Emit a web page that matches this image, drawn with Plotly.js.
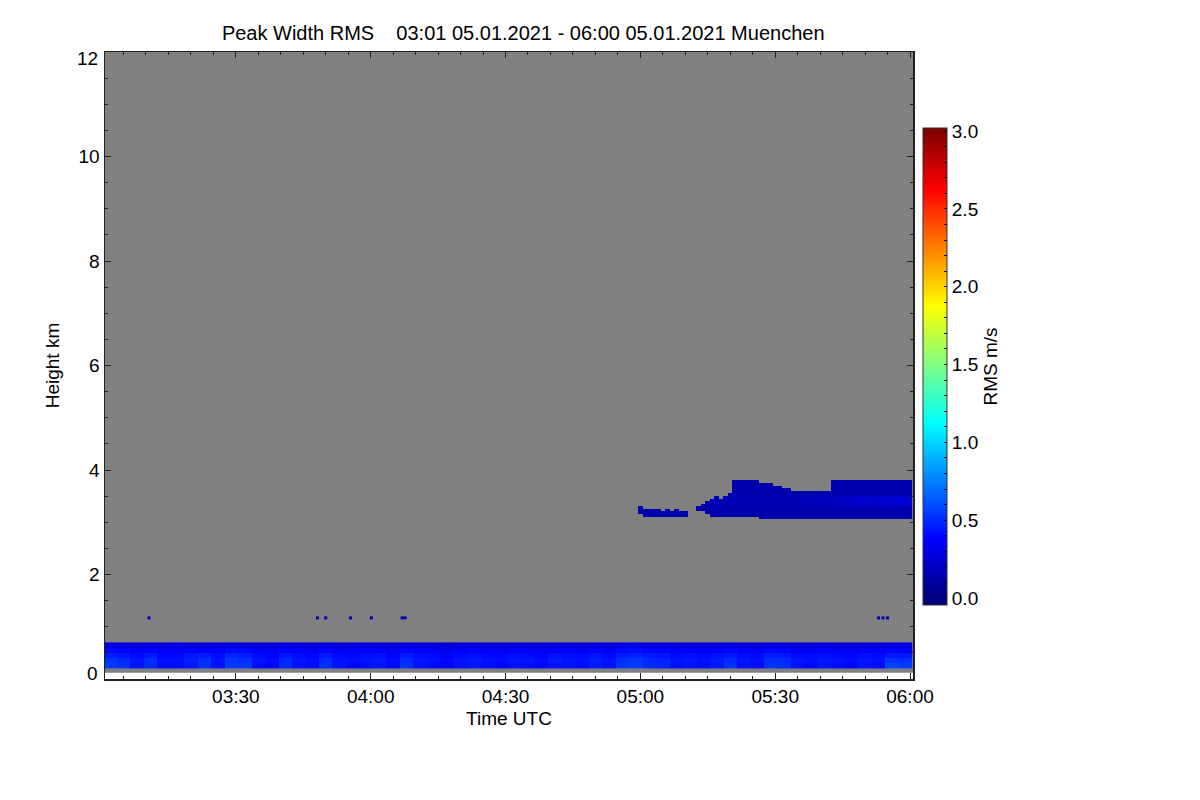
<!DOCTYPE html>
<html><head><meta charset="utf-8">
<script src="https://cdn.plot.ly/plotly-3.0.1.min.js"></script>
<style>html,body{margin:0;padding:0;background:#fff}#chart{width:1200px;height:800px}</style>
</head><body><div id="chart"></div>
<script>
// ---------- data ----------
// Boundary layer: 3-minute columns starting 03:02 UTC, rows at these heights (km)
const lowHeights = [0.25, 0.35, 0.45, 0.55, 0.65];
const lowRow025 = [0.55,0.52,0.42,0.50,0.41,0.40,0.44,0.52,0.42,0.55,0.54,0.41,0.39,0.50,0.42,0.40,0.51,0.43,0.39,0.41,
                   0.43,0.39,0.52,0.42,0.40,0.38,0.42,0.44,0.41,0.39,0.43,0.41,0.39,0.43,0.42,0.40,0.45,0.42,0.53,0.55,
                   0.50,0.49,0.41,0.43,0.40,0.44,0.52,0.42,0.41,0.53,0.51,0.42,0.40,0.43,0.41,0.39,0.43,0.41,0.58,0.55];
const lowRow035 = [0.53,0.50,0.44,0.51,0.42,0.42,0.46,0.52,0.43,0.53,0.51,0.43,0.40,0.49,0.43,0.41,0.50,0.42,0.41,0.43,
                   0.45,0.40,0.50,0.44,0.42,0.39,0.43,0.45,0.42,0.41,0.44,0.43,0.40,0.45,0.43,0.42,0.46,0.43,0.51,0.53,
                   0.49,0.48,0.43,0.44,0.42,0.45,0.50,0.44,0.42,0.51,0.49,0.44,0.42,0.45,0.43,0.41,0.44,0.42,0.53,0.51];
const lowRow045 = [0.46,0.44,0.40,0.45,0.39,0.40,0.43,0.46,0.41,0.48,0.46,0.40,0.38,0.44,0.41,0.39,0.45,0.40,0.39,0.41,
                   0.42,0.38,0.45,0.41,0.40,0.37,0.40,0.42,0.40,0.39,0.41,0.40,0.38,0.42,0.41,0.40,0.43,0.40,0.46,0.47,
                   0.45,0.44,0.40,0.42,0.40,0.42,0.45,0.41,0.40,0.46,0.45,0.41,0.40,0.42,0.40,0.39,0.42,0.40,0.45,0.44];
const lowRow055 = [0.40,0.38,0.34,0.37,0.33,0.35,0.38,0.36,0.34,0.40,0.39,0.35,0.32,0.37,0.35,0.33,0.38,0.34,0.33,0.36,
                   0.35,0.32,0.38,0.35,0.34,0.31,0.35,0.37,0.34,0.33,0.36,0.34,0.32,0.36,0.35,0.33,0.37,0.34,0.40,0.41,
                   0.38,0.37,0.34,0.36,0.33,0.36,0.39,0.35,0.34,0.39,0.38,0.35,0.33,0.36,0.34,0.33,0.35,0.34,0.38,0.37];
const lowRow065 = [0.30,0.28,0.26,0.29,0.27,0.31,0.28,0.27,0.29,0.30,0.28,0.26,0.27,0.29,0.28,0.26,0.30,0.27,0.28,0.29,
                   0.27,0.26,0.29,0.28,0.27,0.25,0.28,0.29,0.27,0.26,0.28,0.27,0.26,0.28,0.27,0.26,0.29,0.27,0.30,0.31,
                   0.29,0.28,0.27,0.28,0.26,0.28,0.30,0.27,0.26,0.29,0.28,0.27,0.26,0.28,0.27,0.26,0.28,0.27,0.29,0.28];

// Mid-level cloud: 1-minute columns from 05:00 to 06:00 UTC
const cloudBase = [3.15,3.12,3.10,3.08,3.08,3.08,3.08,3.08,3.08,3.10,3.12,null,null,3.22,3.18,3.13,3.12,3.12,3.12,3.12,
                   3.10,3.10,3.10,3.10,3.10,3.10,3.08,3.06,3.05,3.05,3.05,3.05,3.05,3.05,3.05,3.05,3.05,3.05,3.05,3.05,
                   3.05,3.05,3.05,3.05,3.05,3.05,3.05,3.05,3.05,3.05,3.05,3.05,3.05,3.05,3.05,3.05,3.05,3.05,3.05,3.05,3.05];
const cloudTop  = [3.28,3.25,3.22,3.22,3.22,3.20,3.22,3.20,3.22,3.20,3.18,null,null,3.30,3.35,3.40,3.45,3.50,3.45,3.50,
                   3.55,3.80,3.80,3.78,3.78,3.76,3.76,3.75,3.74,3.72,3.70,3.67,3.65,3.62,3.60,3.58,3.57,3.57,3.57,3.57,
                   3.57,3.57,3.57,3.76,3.78,3.80,3.79,3.80,3.78,3.80,3.79,3.80,3.80,3.78,3.80,3.79,3.80,3.80,3.79,3.80,3.80];
const cloudEdge = [0.14,0.13,0.14,0.15,0.13,0.14,0.15,0.13,0.14,0.15,0.14,null,null,0.14,0.15,0.13,0.14,0.15,0.14,0.13,
                   0.14,0.15,0.13,0.14,0.15,0.14,0.13,0.14,0.15,0.14,0.13,0.14,0.15,0.14,0.13,0.14,0.15,0.14,0.13,0.14,
                   0.15,0.14,0.13,0.14,0.15,0.14,0.13,0.14,0.15,0.14,0.13,0.14,0.15,0.14,0.13,0.14,0.15,0.14,0.13,0.14,0.15];
const cloudCore = [0.14,0.13,0.14,0.15,0.13,0.14,0.15,0.13,0.14,0.15,0.14,null,null,0.14,0.15,0.14,0.15,0.16,0.15,0.14,
                   0.15,0.16,0.15,0.16,0.16,0.16,0.15,0.16,0.16,0.16,0.15,0.16,0.16,0.16,0.15,0.16,0.16,0.17,0.17,0.17,
                   0.18,0.18,0.19,0.19,0.20,0.21,0.22,0.21,0.22,0.23,0.22,0.24,0.23,0.22,0.24,0.25,0.23,0.24,0.25,0.24,0.26];
const coreLo = 3.3, coreHi = 3.5;
const cloudRowHeights = [3.025,3.075,3.125,3.175,3.225,3.275,3.325,3.375,3.425,3.475,3.525,3.575,3.625,3.675,3.725,3.775,3.825];

// Isolated echoes near 1.2 km
const dotTimes = ['2021-01-05 03:10:40','2021-01-05 03:48:10','2021-01-05 03:50:00','2021-01-05 03:55:30',
                  '2021-01-05 04:00:10','2021-01-05 04:07:00','2021-01-05 04:07:40',
                  '2021-01-05 05:53:00','2021-01-05 05:54:00','2021-01-05 05:55:00'];
const dotHeights = [1.17,1.17,1.17,1.17,1.17,1.17,1.17,1.17,1.17,1.17];
const dotValues  = [0.15,0.16,0.15,0.14,0.15,0.16,0.15,0.14,0.15,0.16];

const yTickVals = [0,2,4,6,8,10,12];
const yTickText = ['','2','4','6','8','10',''];
const cbTickVals = [0,0.1,0.2,0.3,0.4,0.5,0.6,0.7,0.8,0.9,1.0,1.1,1.2,1.3,1.4,1.5,1.6,1.7,1.8,1.9,2.0,2.1,2.2,2.3,2.4,2.5,2.6,2.7,2.8,2.9,3.0];
const cbTickText = ['0.0','','','','','0.5','','','','','1.0','','','','','1.5','','','','','2.0','','','','','2.5','','','','','3.0'];

// ---------- build ----------
function pad(n){return (n<10?'0':'')+n;}
function timeStr(totalMin){const h=Math.floor(totalMin/60), m=totalMin%60; return '2021-01-05 '+pad(h)+':'+pad(m)+':00';}
const lowX = lowRow025.map((_,k)=>timeStr(182+3*k));
const lowZ = [lowRow025,lowRow035,lowRow045,lowRow055,lowRow065];
const cloudX = cloudBase.map((_,k)=>timeStr(300+k));
const cloudZ = cloudRowHeights.map(h => cloudBase.map((b,k)=>{
  const t = cloudTop[k];
  if (b===null || t===null) return null;
  if (h > b && h < t + 0.025) return (h>=coreLo && h<=coreHi) ? cloudCore[k] : cloudEdge[k];
  return null;
}));

const zmin=-0.045, zmax=3.02;
function p(v){return (v-zmin)/(zmax-zmin);}
const jet = [[0,'#00007f'],[p(0),'#00007f'],[p(0.375),'#0000ff'],[p(1.125),'#00ffff'],[p(1.875),'#ffff00'],[p(2.625),'#ff0000'],[p(3.0),'#7f0000'],[1,'#7f0000']];

const FONT = 'Liberation Sans, Arial, Helvetica, sans-serif';

const traces = [
  {type:'heatmap', x:lowX, y:lowHeights, z:lowZ, zmin:zmin, zmax:zmax, colorscale:jet, showscale:true, hoverongaps:false,
   colorbar:{thickness:24, thicknessmode:'pixels', len:477, lenmode:'pixels', x:1.0124, xanchor:'left', xpad:0,
     y:0.8788, yanchor:'top', ypad:0, outlinewidth:1, outlinecolor:'#333',
     tickmode:'array', tickvals:cbTickVals, ticktext:cbTickText, ticks:'inside', ticklen:3, tickcolor:'#000', tickwidth:1,
     tickfont:{family:FONT, size:19, color:'#000'},
     title:{text:'RMS m/s', side:'right', font:{family:FONT, size:19, color:'#000'}}}},
  {type:'heatmap', x:cloudX, y:cloudRowHeights, z:cloudZ, zmin:zmin, zmax:zmax, colorscale:jet, showscale:false, hoverongaps:false},
  {type:'scatter', mode:'markers', x:dotTimes, y:dotHeights,
   marker:{symbol:'square', size:3, color:dotValues, cmin:zmin, cmax:zmax, colorscale:jet, line:{width:0}}, showlegend:false}
];

const layout = {
  width:1200, height:800,
  margin:{l:105, r:287, t:52, b:121},
  paper_bgcolor:'#fff', plot_bgcolor:'#fff',
  font:{family:FONT, size:19, color:'#000'},
  showlegend:false,
  title:{text:'Peak Width RMS\u00a0\u00a0\u00a0 03:01 05.01.2021 - 06:00 05.01.2021 Muenchen',
    font:{family:FONT, size:20, color:'#000'}, x:0.436, xanchor:'center', xref:'container',
    y:(800-33)/800, yanchor:'middle', yref:'container'},
  xaxis:{type:'date', range:['2021-01-05 03:00:53','2021-01-05 06:00:40'],
    tick0:'2021-01-05 03:00:00', dtick:30*60*1000, tickformat:'%H:%M',
    ticks:'inside', ticklen:6, tickwidth:1, tickcolor:'#222', mirror:'ticks',
    showline:true, linecolor:'#222', linewidth:1.5, showgrid:false, zeroline:false,
    minor:{dtick:5*60*1000, ticks:'inside', ticklen:3, tickcolor:'#222', showgrid:false},
    tickfont:{family:FONT, size:19, color:'#000'},
    title:{text:'Time UTC', font:{family:FONT, size:19, color:'#000'}, standoff:5}},
  yaxis:{range:[0,12], tickmode:'array', tickvals:yTickVals, ticktext:yTickText,
    ticks:'inside', ticklen:6, tickwidth:1, tickcolor:'#222', mirror:'ticks',
    showline:true, linecolor:'#222', linewidth:1.5, showgrid:false, zeroline:false,
    minor:{dtick:0.5, ticks:'inside', ticklen:3, tickcolor:'#222', showgrid:false},
    tickfont:{family:FONT, size:19, color:'#000'},
    title:{text:'Height km', font:{family:FONT, size:19, color:'#000'}, standoff:14}},
  annotations:[
    {text:'0', xref:'paper', x:0, xanchor:'right', xshift:-5, yref:'y', y:0, yanchor:'middle', yshift:6, showarrow:false,
     font:{family:FONT, size:19, color:'#000'}},
    {text:'12', xref:'paper', x:0, xanchor:'right', xshift:-5, yref:'y', y:12, yanchor:'middle', yshift:-6, showarrow:false,
     font:{family:FONT, size:19, color:'#000'}}
  ],
  shapes:[{type:'rect', xref:'paper', x0:0, x1:1, yref:'y', y0:0.12, y1:12, fillcolor:'#808080', line:{width:0}, layer:'below'}]
};

Plotly.newPlot('chart', traces, layout, {displayModeBar:false, staticPlot:true});
</script>
</body></html>
